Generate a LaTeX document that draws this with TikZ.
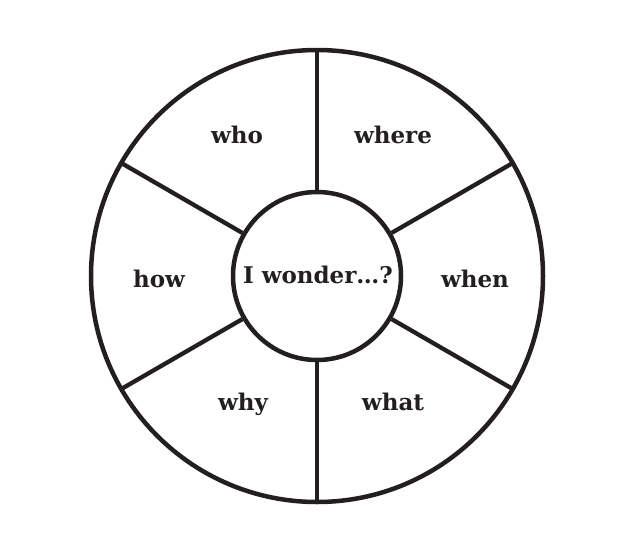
\documentclass[tikz,border=0pt]{standalone}
\usepackage{fontspec}
\setmainfont{DejaVu Serif}
\usetikzlibrary{calc}
\definecolor{ink}{HTML}{231F20}
\begin{document}
\begin{tikzpicture}[x=1pt,y=-1pt,
  ring/.style={draw=ink,line width=4.5pt},
  spoke/.style={draw=ink,line width=4.3pt},
  lbl/.style={text=ink,font=\bfseries\fontsize{23}{26}\selectfont,inner sep=0pt,anchor=base}]
\useasboundingbox[fill=white] (0,0) rectangle (642,547);
\coordinate (c) at (317,276);
\draw[ring] (c) circle[radius=226];
\node[circle,draw=ink,line width=4.5pt,minimum size=168pt,inner sep=0pt,fill=white] (hub) at (c) {};
\foreach \a in {90,30,-30,-90,-150,150}{
  \coordinate (o\a) at ($(c)+({226*cos(\a)},{-226*sin(\a)})$);
  \draw[spoke] (hub.\a) -- (o\a);
}
\node[lbl] (who) at (237,143) {who};
\node[lbl] (where) at (393,143) {where};
\node[lbl] (how) at (159,287) {how};
\node[lbl] (when) at (475,287) {when};
\node[lbl] (why) at (243,410) {why};
\node[lbl] (what) at (393,410) {what};
\node[lbl] (wonder) at (318,283) {I wonder…?};
\end{tikzpicture}
\end{document}
